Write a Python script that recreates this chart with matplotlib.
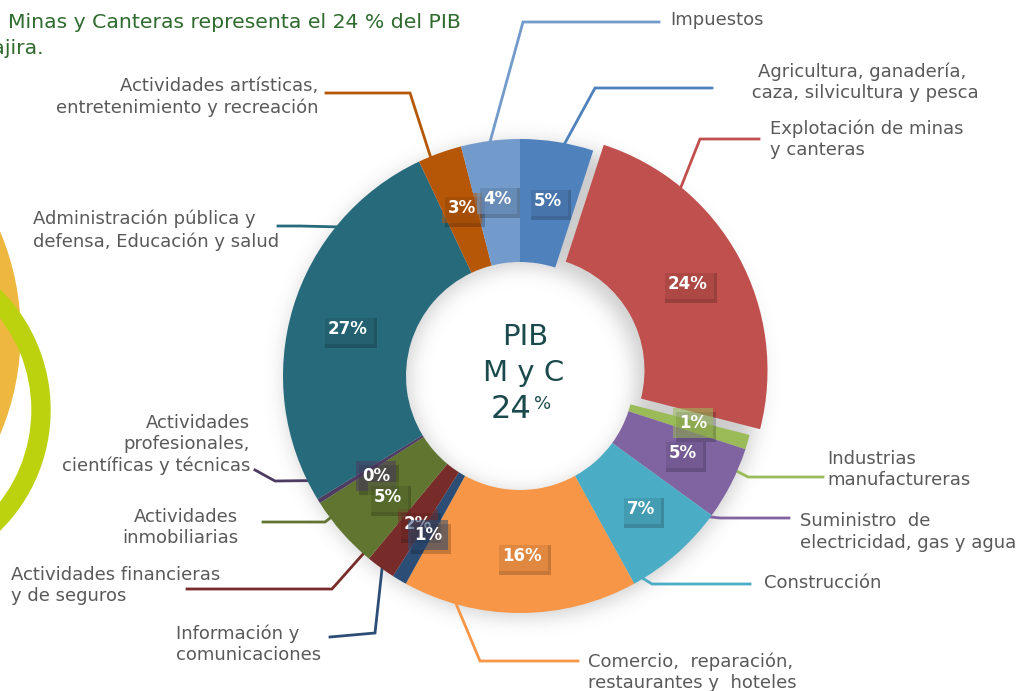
import numpy as np
import matplotlib
matplotlib.use("Agg")
import matplotlib.pyplot as plt
from matplotlib.patches import Circle, Wedge
from matplotlib import transforms

# data: share of GDP by sector (clockwise from top)
sectors = [
    "Agricultura, ganadería,\n caza, silvicultura y pesca",
    "Explotación de minas\ny canteras",
    "Industrias\nmanufactureras",
    "Suministro  de\nelectricidad, gas y agua",
    "Construcción",
    "Comercio,  reparación,\nrestaurantes y  hoteles",
    "Información y\ncomunicaciones",
    "Actividades financieras\ny de seguros",
    "Actividades\ninmobiliarias",
    "Actividades\nprofesionales,\ncientíficas y técnicas",
    "Administración pública y\ndefensa, Educación y salud",
    "Actividades artísticas,\nentretenimiento y recreación",
    "Impuestos",
]
shares = [5, 24, 1, 5, 7, 16, 1, 2, 5, 0.3, 26.7, 3, 4]
colors = ["#4F81BD", "#C0504D", "#9BBB59", "#8064A2", "#4BACC6", "#F79646",
          "#2C4D75", "#772C2A", "#5F7530", "#4D3B62", "#276A7C", "#B65708",
          "#729ACA"]
explode_px = [0, 12, 0, 0, 0, 0, 0, 0, 0, 0, 0, 0, 0]

# layout (pixel coords, y down)
W, H = 1023, 691
cx, cy = 520, 376
R, ring = 237, 123
line_h = 22.5

pct_pos = [(548, 201), (688, 284), (693, 423), (683, 453), (641, 509),
           (522, 556), (428, 535), (418, 524), (388, 497), (376, 476),
           (348, 329), (462, 208), (497, 199)]
pct_z = [4, 4, 5, 4, 4, 4, 6, 5, 5, 4, 4, 4, 5]
# label text: (x, y of first line, ha)
label_pos = [(862, 71, "center"), (770, 128, "left"), (827, 458, "left"),
             (800, 521, "left"), (764, 583, "left"), (588, 661, "left"),
             (176, 633, "left"), (11, 574, "left"), (238, 516, "right"),
             (250, 422, "right"), (33, 219, "left"), (318, 86, "right"),
             (670, 20, "left")]
# leader: text-side point, elbow, angle on rim
leaders = [((712, 88), (595, 88), 79.1), ((759, 139), (700, 139), 50.6),
           ((823, 477), (748, 477), -23.7), ((789, 518), (720, 518), -36.5),
           ((750, 584), (652, 584), -58.7), ((578, 661), (480, 661), -105.6),
           ((330, 637), (375, 633), -125.6), ((187, 589), (332, 589), -131.4),
           ((263, 522), (325, 522), -143.2), ((255, 470), (275, 481), -153.8),
           ((278, 226), (300, 226), 141.0), ((326, 93), (410, 93), 112.2),
           ((659, 22), (523, 22), 97.2)]


def fy(y):
    return H - y


fig = plt.figure(figsize=(W / 100, H / 100), dpi=100)
ax = fig.add_axes([0, 0, 1, 1])

# decorative circles at the left edge
ax.add_patch(Circle((-240, fy(333)), 260, color="#EEB73F", zorder=0))
ax.add_patch(Wedge((-119, fy(410)), 169, 0, 360, width=18, color="#BCD20F", zorder=0.5))

# soft shadow under the ring
xx, yy = np.meshgrid(np.arange(W), np.arange(H))
rr = np.hypot(xx - cx - 2, yy - cy - 3)
mask = ((rr <= R) & (rr >= R - ring)).astype(float)
sig = 10
k = np.exp(-np.arange(-3 * sig, 3 * sig + 1) ** 2 / (2 * sig ** 2))
k /= k.sum()
blur = np.apply_along_axis(lambda m: np.convolve(m, k, mode="same"), 1, mask)
blur = np.apply_along_axis(lambda m: np.convolve(m, k, mode="same"), 0, blur)
img = np.zeros((H, W, 4))
img[..., :3] = 0.45
img[..., 3] = blur * 0.35
ax.imshow(img, extent=(0, W, 0, H), origin="upper", zorder=1, aspect="auto")

wedges, _ = ax.pie(shares, colors=colors, startangle=90, counterclock=False,
                   radius=R, center=(cx, fy(cy)), explode=explode_px,
                   wedgeprops=dict(width=ring, edgecolor="none"), frame=True)
for w in wedges:
    w.set_zorder(2)
ax.set_xlim(0, W)
ax.set_ylim(0, H)
ax.set_aspect("equal")
ax.axis("off")

# leader lines
for i, ((x0, y0), (x1, y1), ang) in enumerate(leaders):
    wx, wy = wedges[i].center
    a = np.radians(ang)
    ex, ey = wx + R * np.cos(a), wy + R * np.sin(a)
    ax.plot([x0, x1, ex], [fy(y0), fy(y1), ey], color=colors[i], lw=2, zorder=1.5,
            solid_joinstyle="miter")

# category labels
for i, (x, y, ha) in enumerate(label_pos):
    n = sectors[i].count("\n")
    ax.text(x, fy(y + n * line_h / 2), sectors[i], ha=ha, va="center", fontsize=13,
            color="#595959", linespacing=1.25, zorder=3)

# percentage labels with box shadow
shadow_tr = transforms.offset_copy(ax.transData, fig=fig, x=3, y=-4, units="dots")
for i, (x, y) in enumerate(pct_pos):
    s = f"{round(shares[i]):d}%"
    ax.text(x, fy(y), s, ha="center", va="center", fontsize=12, fontweight="bold",
            color=(0, 0, 0, 0), transform=shadow_tr, zorder=pct_z[i] - 0.5,
            bbox=dict(boxstyle="square,pad=0.35", fc=(0, 0, 0, 0.2), ec="none"))
    ax.text(x, fy(y), s, ha="center", va="center", fontsize=12, fontweight="bold",
            color="white", zorder=pct_z[i],
            bbox=dict(boxstyle="square,pad=0.35", fc=colors[i], alpha=0.55, ec="none"))

# centre text
ax.text(525, fy(337), "PIB", ha="center", va="center", fontsize=21, color="#1B4A4D", zorder=7)
ax.text(524, fy(373), "M y C", ha="center", va="center", fontsize=21, color="#1B4A4D", zorder=7)
ax.text(531, fy(409), "24", ha="right", va="center", fontsize=23, color="#1B4A4D", zorder=7)
ax.text(534, fy(404), "%", ha="left", va="center", fontsize=13, color="#1B4A4D", zorder=7)

# title (cut off at the left edge, as in the slide)
ax.text(8, fy(22), "Minas y Canteras representa el 24 % del PIB",
        ha="left", va="center", fontsize=14.7, color="#2F6B2F", zorder=7)
ax.text(44, fy(48), "de La Guajira.", ha="right", va="center", fontsize=14.7,
        color="#2F6B2F", zorder=7)

fig.savefig("out.png", dpi=100)
